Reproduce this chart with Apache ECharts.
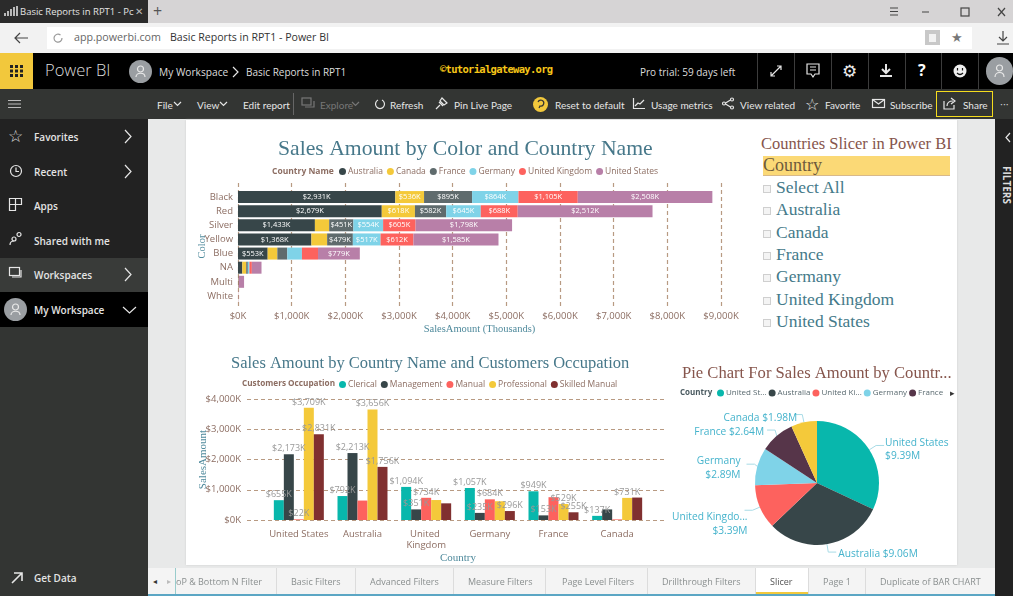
<!DOCTYPE html>
<html>
<head>
<meta charset="utf-8">
<title>Basic Reports in RPT1 - Power BI</title>
<script src="https://cdn.jsdelivr.net/npm/echarts@6/dist/echarts.min.js"></script>
<style>
html, body { margin: 0; padding: 0; width: 1013px; height: 596px; overflow: hidden; background: #e8e9e9; font-family: "Open Sans", sans-serif; }
.box, .t, svg.i, .chart { position: absolute; }
.t { white-space: nowrap; line-height: 1; }
.tb { color: #e6e6e6; font-size: 10px; top: 100px; font-family: Lato, sans-serif; }
.nav { color: #e4e4e4; font-size: 10px; font-weight: 600; left: 34px; }
.tab { color: #8a8f8f; font-size: 9px; top: 577px; }
.sep { position: absolute; top: 568px; height: 26px; width: 1px; background: #dcdcdc; }
.vsep { position: absolute; top: 53px; height: 36px; width: 1px; background: #3c3c3c; }
svg.i { fill: none; stroke: #e6e6e6; stroke-width: 1.2; overflow: visible; }
#slicerTitle { left: 761px; top: 134px; font: 16.5px "Liberation Serif", serif; color: #86554c; white-space: nowrap; position: absolute; }
#slicerHead { left: 763px; top: 156px; width: 187px; height: 19px; background: #fbd976; border-bottom: 1px solid #d8b98a; position: absolute; font: 18px/18px "Liberation Serif", serif; color: #6e5a3c; }
.slicerItem { position: absolute; left: 776px; font: 17.5px/18px "Liberation Serif", serif; color: #447a8a; white-space: nowrap; }
.check { position: absolute; left: 763px; width: 6px; height: 6px; border: 1px solid #cfcfcf; background: #f4f4f4; }
</style>
</head>
<body>
<!-- browser frame -->
<div class="box" style="left:0;top:0;width:1013px;height:23px;background:#d6d4d5"></div>
<div class="box" style="left:0;top:0;width:148px;height:23px;background:#2b2b2b"></div>
<svg class="i" style="left:4px;top:6px" width="14" height="11"><path d="M1 10V7M4 10V5M7 10V3M10 10V1M13 10V0" stroke="#ddd" stroke-width="1.6"/></svg>
<div class="t" style="left:20px;top:7px;font-size:9.5px;color:#e4e4e4">Basic Reports in RPT1 - Pc</div>
<div class="t" style="left:135px;top:6px;font-size:10px;color:#bbb">✕</div>
<div class="t" style="left:153px;top:3px;font-size:16px;color:#555">+</div>
<svg class="i" style="left:890px;top:7px" width="120" height="12"><path d="M0 1H8M0 4.500H8M0 8H8M32 5H39" stroke="#444"/><rect x="71" y="1" width="8" height="8" stroke="#444"/><path d="M108 1l7 8M115 1l-7 8" stroke="#444"/></svg>
<div class="box" style="left:0;top:23px;width:1013px;height:30px;background:#f2f2f2"></div>
<div class="box" style="left:47px;top:27px;width:925px;height:22px;background:#fff"></div>
<svg class="i" style="left:14px;top:31px" width="14" height="14"><path d="M14 7H1M6 2L1 7l5 5" stroke="#444"/></svg>
<svg class="i" style="left:53px;top:33px" width="10" height="10"><path d="M9 5a4 4 0 1 1-1.500-3" stroke="#999"/></svg>
<div class="t" style="left:74px;top:32px;font-size:10.7px;color:#666">app.powerbi.com</div>
<div class="t" style="left:170px;top:32px;font-size:10.6px;color:#333">Basic Reports in RPT1 - Power BI</div>
<div class="box" style="left:925px;top:30px;width:15px;height:15px;background:#c8c8c8"></div>
<div class="box" style="left:929px;top:34px;width:7px;height:8px;background:#f2f2f2"></div>
<div class="t" style="left:951px;top:31px;font-size:13px;color:#777">★</div>
<svg class="i" style="left:997px;top:31px" width="12" height="14"><path d="M6 0V9M2 6l4 4 4-4M0 13H12" stroke="#444"/></svg>

<!-- power bi header -->
<div class="box" style="left:0;top:53px;width:1013px;height:36px;background:#000"></div>
<div class="box" style="left:0;top:53px;width:33px;height:36px;background:#f2c83c"></div>
<svg class="i" style="left:10px;top:65px" width="13" height="12"><path d="M0 1.500H13M0 6H13M0 10.500H13" stroke="#222" stroke-width="3" stroke-dasharray="3 2"/></svg>
<div class="t" style="left:45px;top:62px;font-size:16.5px;font-weight:300;color:#ddd">Power BI</div>
<div class="box" style="left:129px;top:60px;width:23px;height:23px;border-radius:50%;background:#9a9ea2"></div>
<svg class="i" style="left:135px;top:65px" width="11" height="13"><circle cx="5.500" cy="4" r="3" stroke="#e8e8e8"/><path d="M1 12c0-5 9-5 9 0" stroke="#e8e8e8"/></svg>
<div class="t" style="left:159px;top:67px;font-size:10.2px;color:#ddd">My Workspace</div>
<svg class="i" style="left:233px;top:67px" width="6" height="10"><path d="M0 0l5 5-5 5"/></svg>
<div class="t" style="left:246px;top:67px;font-size:10px;color:#ddd">Basic Reports in RPT1</div>
<div class="t" style="left:440px;top:64px;font-size:10.500px;font-weight:700;color:#f5c518;font-family:'DejaVu Sans Mono',monospace;letter-spacing:-.7px">©tutorialgateway.org</div>
<div class="t" style="left:640px;top:67px;font-size:10px;color:#ddd">Pro trial: 59 days left</div>
<div class="vsep" style="left:757px"></div><div class="vsep" style="left:794px"></div><div class="vsep" style="left:831px"></div><div class="vsep" style="left:868px"></div><div class="vsep" style="left:905px"></div><div class="vsep" style="left:941px"></div><div class="vsep" style="left:978px"></div>
<svg class="i" style="left:771px;top:66px" width="10" height="10"><path d="M0 10L10 0M0 6V10H4M6 0H10V4"/></svg>
<svg class="i" style="left:807px;top:64px" width="12" height="14"><path d="M0 0H12V10H8L6 13 4 10H0ZM3 3H9M3 6H9"/></svg>
<div class="t" style="left:842px;top:62px;font-size:17px;color:#eee">⚙</div>
<svg class="i" style="left:880px;top:64px" width="12" height="13"><path d="M6 0V8M2 5l4 4 4-4" stroke-width="2"/><path d="M0 12H12" stroke-width="2"/></svg>
<div class="t" style="left:918px;top:62px;font-size:16px;font-weight:700;color:#fff">?</div>
<svg class="i" style="left:953px;top:64px" width="14" height="14"><circle cx="7" cy="7" r="6.500" fill="#eee" stroke="none"/><path d="M4.500 4V6.500M9.500 4V6.500M4 9c2 2 4 2 6 0" stroke="#111"/></svg>
<div class="box" style="left:986px;top:57px;width:27px;height:28px;border-radius:14px;background:#9a9ea2"></div>
<svg class="i" style="left:994px;top:64px" width="11" height="14"><circle cx="5.500" cy="4" r="3" stroke="#e8e8e8"/><path d="M1 13c0-6 9-6 9 0" stroke="#e8e8e8"/></svg>

<!-- toolbar -->
<div class="box" style="left:0;top:89px;width:1013px;height:30px;background:#333533"></div>
<svg class="i" style="left:8px;top:100px" width="13" height="8"><path d="M0 .5H13M0 4H13M0 7.500H13" stroke="#bbb"/></svg>
<div class="t tb" style="left:157px">File</div>
<svg class="i" style="left:174px;top:102px" width="7" height="4"><path d="M0 0L3.500 3.500 7 0"/></svg>
<div class="t tb" style="left:197px">View</div>
<svg class="i" style="left:220px;top:102px" width="7" height="4"><path d="M0 0L3.500 3.500 7 0"/></svg>
<div class="t tb" style="left:243px">Edit report</div>
<div class="box" style="left:293px;top:93px;width:1px;height:22px;background:#666"></div>
<svg class="i" style="left:302px;top:98px" width="12" height="11"><rect x="0" y="0" width="9" height="7" stroke="#777"/><path d="M3 9H12V3" stroke="#777"/></svg>
<div class="t tb" style="left:320px;color:#777">Explore</div>
<svg class="i" style="left:352px;top:102px" width="7" height="4"><path d="M0 0L3.500 3.500 7 0" stroke="#777"/></svg>
<svg class="i" style="left:375px;top:99px" width="10" height="10"><path d="M3 1a4.500 4.500 0 1 0 4 0"/></svg>
<div class="t tb" style="left:390px">Refresh</div>
<svg class="i" style="left:436px;top:98px" width="11" height="11"><path d="M0 11L4 7M3 4L7 8M6 0L11 5 8 7 4 3Z"/></svg>
<div class="t tb" style="left:454px">Pin Live Page</div>
<div class="box" style="left:533px;top:97px;width:15px;height:15px;border-radius:50%;background:#f2c83c"></div>
<svg class="i" style="left:537px;top:100px" width="7" height="9"><path d="M1 2a3 3 0 1 1 2 4L2 8" stroke="#333"/></svg>
<div class="t tb" style="left:555px">Reset to default</div>
<svg class="i" style="left:633px;top:98px" width="12" height="11"><path d="M.5 0V10.500H12M2 8l3-3 2 1 4-4"/></svg>
<div class="t tb" style="left:651px">Usage metrics</div>
<svg class="i" style="left:722px;top:98px" width="12" height="11"><circle cx="2" cy="5.500" r="1.500"/><circle cx="10" cy="1.500" r="1.500"/><circle cx="10" cy="9.500" r="1.500"/><path d="M3.500 5L8.500 2M3.500 6L8.500 9"/></svg>
<div class="t tb" style="left:740px">View related</div>
<div class="t" style="left:805px;top:96px;font-size:16px;color:#e6e6e6">☆</div>
<div class="t tb" style="left:825px">Favorite</div>
<svg class="i" style="left:872px;top:99px" width="13" height="9"><rect x=".5" y=".5" width="12" height="8"/><path d="M.5 .5L6.500 5 12.500 .5"/></svg>
<div class="t tb" style="left:890px">Subscribe</div>
<div class="box" style="left:936px;top:91px;width:55px;height:24px;border:1.500px solid #f5dc1e"></div>
<svg class="i" style="left:944px;top:98px" width="12" height="11"><path d="M0 3V11H10V7M3 8c0-4 3-5 6-5M7 0l4 3-4 3"/></svg>
<div class="t tb" style="left:963px">Share</div>
<div class="t" style="left:1000px;top:98px;font-size:11px;color:#ccc">···</div>

<!-- left nav -->
<div class="box" style="left:0;top:119px;width:148px;height:139px;background:#222"></div>
<div class="box" style="left:0;top:258px;width:148px;height:34px;background:#393b39"></div>
<div class="box" style="left:0;top:292px;width:148px;height:35px;background:#000"></div>
<div class="box" style="left:0;top:327px;width:148px;height:269px;background:#333533"></div>
<div class="t" style="left:8px;top:127px;font-size:17px;color:#ddd">☆</div>
<div class="t nav" style="top:132px">Favorites</div>
<svg class="i" style="left:125px;top:130px" width="7" height="13"><path d="M0 0L6 6.500 0 13"/></svg>
<svg class="i" style="left:10px;top:165px" width="12" height="12"><circle cx="6" cy="6" r="5.500"/><path d="M6 2.500V6.500H9"/></svg>
<div class="t nav" style="top:167px">Recent</div>
<svg class="i" style="left:125px;top:165px" width="7" height="13"><path d="M0 0L6 6.500 0 13"/></svg>
<svg class="i" style="left:9px;top:198px" width="13" height="13"><path d="M.5 .5H6.500V12.500H.5ZM.5 6.500H6.500M6.500 .5H12.500V6.500H6.500"/></svg>
<div class="t nav" style="top:201px">Apps</div>
<svg class="i" style="left:10px;top:232px" width="13" height="13"><circle cx="4" cy="7" r="2"/><circle cx="9" cy="2.500" r="2"/><path d="M0 13c0-3 2-4 4-4M8 13"/></svg>
<div class="t nav" style="top:236px">Shared with me</div>
<svg class="i" style="left:9px;top:267px" width="15" height="12"><rect x=".5" y=".5" width="10" height="8"/><path d="M12 3V10H3"/></svg>
<div class="t nav" style="top:270px">Workspaces</div>
<svg class="i" style="left:125px;top:268px" width="7" height="13"><path d="M0 0L6 6.500 0 13"/></svg>
<div class="box" style="left:4px;top:298px;width:23px;height:23px;border-radius:50%;background:#9a9ea2"></div>
<svg class="i" style="left:10px;top:303px" width="11" height="13"><circle cx="5.500" cy="4" r="3" stroke="#e8e8e8"/><path d="M1 12c0-5 9-5 9 0" stroke="#e8e8e8"/></svg>
<div class="t nav" style="top:305px">My Workspace</div>
<svg class="i" style="left:123px;top:307px" width="13" height="7"><path d="M0 0L6.500 6 13 0"/></svg>
<svg class="i" style="left:11px;top:572px" width="12" height="12"><path d="M1 11L11 1M3 1H11V9" stroke-width="1.600"/></svg>
<div class="t nav" style="top:573px">Get Data</div>

<!-- report page -->
<div class="box" style="left:186px;top:120px;width:771px;height:445px;background:#fff;box-shadow:0 0 2px #ccc"></div>
<div class="box" style="left:995px;top:119px;width:18px;height:477px;background:#222"></div>
<svg class="i" style="left:1006px;top:133px" width="5" height="9"><path d="M4 0L0 4.500 4 9"/></svg>
<div class="t" style="left:1012px;top:166px;font-size:10px;font-weight:700;color:#ddd;transform-origin:0 0;transform:rotate(90deg)">FILTERS</div>

<div class="chart" id="colorChart" style="left:186px;top:130px;width:570px;height:210px"></div>
<div class="chart" id="occupationChart" style="left:190px;top:350px;width:480px;height:218px"></div>
<div class="chart" id="pieChart" style="left:650px;top:350px;width:320px;height:215px"></div>

<div id="slicerTitle">Countries Slicer in Power BI</div>
<div id="slicerHead">Country</div>
<div id="slicerList"></div>

<!-- report tabs -->
<div class="box" style="left:148px;top:568px;width:847px;height:26px;background:#f4f4f4"></div>
<div class="box" style="left:148px;top:594px;width:847px;height:2px;background:#5ba6c4"></div>
<div class="box" style="left:756px;top:568px;width:52px;height:26px;background:#fff"></div>
<div class="box" style="left:756px;top:592px;width:52px;height:2px;background:#f2c83c"></div>
<div class="t" style="left:153px;top:577px;font-size:8px;color:#333">◂</div>
<div class="t" style="left:167px;top:577px;font-size:8px;color:#bbb">▸</div>
<div class="sep" style="left:175px;background:#9cc"></div>
<div class="t tab" style="left:176px">oP &amp; Bottom N Filter</div><div class="sep" style="left:276px"></div>
<div class="t tab" style="left:291px">Basic Filters</div><div class="sep" style="left:355px"></div>
<div class="t tab" style="left:370px">Advanced Filters</div><div class="sep" style="left:453px"></div>
<div class="t tab" style="left:468px">Measure Filters</div><div class="sep" style="left:545px"></div>
<div class="t tab" style="left:562px">Page Level Filters</div><div class="sep" style="left:647px"></div>
<div class="t tab" style="left:662px">Drillthrough Filters</div><div class="sep" style="left:755px"></div>
<div class="t tab" style="left:770px;color:#555">Slicer</div><div class="sep" style="left:808px"></div>
<div class="t tab" style="left:823px">Page 1</div><div class="sep" style="left:865px"></div>
<div class="t tab" style="left:880px">Duplicate of BAR CHART</div>

<script>
// sales by color, one list per country (thousands)
var colorNames = ['Black', 'Red', 'Silver', 'Yellow', 'Blue', 'NA', 'Multi', 'White'];
var countryNames = ['Australia', 'Canada', 'France', 'Germany', 'United Kingdom', 'United States'];
var australiaByColor = [2931, 2679, 1433, 1368, 553, 80, 8, 1];
var canadaByColor = [536, 618, 266, 293, 180, 73, 2, 0];
var franceByColor = [895, 582, 451, 479, 185, 30, 2, 0];
var germanyByColor = [864, 645, 554, 517, 273, 30, 2, 0];
var ukByColor = [1105, 688, 605, 612, 300, 45, 4, 1];
var usByColor = [2508, 2512, 1798, 1585, 779, 180, 95, 2];
var colorTicks = [0, 1000, 2000, 3000, 4000, 5000, 6000, 7000, 8000, 9000];

// sales by occupation, one list per occupation (thousands)
var occupationCountries = ['United States', 'Australia', 'United Kingdom', 'Germany', 'France', 'Canada'];
var occupationNames = ['Clerical', 'Management', 'Manual', 'Professional', 'Skilled Manual'];
var clericalSales = [655, 792, 1094, 1057, 949, 137];
var managementSales = [2173, 2213, 351, 235, 153, 350];
var manualSales = [22, 643, 734, 684, 754, 20];
var professionalSales = [3709, 3656, 660, 620, 529, 731];
var skilledSales = [2831, 1756, 551, 296, 255, 742];
// labels the report hid because they did not fit
var hiddenLabels = {
    'Management': ['Canada'],
    'Manual': ['Australia', 'France', 'Canada'],
    'Professional': ['United Kingdom', 'Germany'],
    'Skilled Manual': ['United Kingdom', 'Canada']
};

// pie (millions)
var pieCountries = ['United States', 'Australia', 'United Kingdom', 'Germany', 'France', 'Canada'];
var pieValues = [9.39, 9.06, 3.39, 2.89, 2.64, 1.98];
var pieOneLine = ['Australia', 'France', 'Canada'];

var slicerItems = ['Select All', 'Australia', 'Canada', 'France', 'Germany', 'United Kingdom', 'United States'];

var titleFont = '"Liberation Serif", serif';
var bodyFont = '"Open Sans", sans-serif';
var brown = '#8c6d62';
var teal = '#4f8a9c';
var gridLine = { show: true, lineStyle: { color: '#b89a82', type: [4, 3], width: 1.2 } };

function money(v) {
    return '$' + String(v).replace(/\B(?=(\d{3})+$)/, ',') + 'K';
}

function shorten(name, size) {
    return name.length > size ? name.substring(0, size) + '...' : name;
}

function loadSlicer() {
    var html = '';
    for (var i = 0; i < slicerItems.length; i++) {
        var y = 178 + Math.round(i * 22.3);
        html += '<div class="check" style="top:' + (y + 7) + 'px"></div>';
        html += '<div class="slicerItem" style="top:' + y + 'px">' + slicerItems[i] + '</div>';
    }
    document.getElementById('slicerList').innerHTML = html;
}

function loadColorChart() {
    var colors = ['#374649', '#f4c93a', '#5f6b6d', '#7fd3e8', '#fd625e', '#b87fa8'];
    var lists = [australiaByColor, canadaByColor, franceByColor, germanyByColor, ukByColor, usByColor];
    var series = [];
    for (var i = 0; i < countryNames.length; i++) {
        series.push({
            name: countryNames[i],
            type: 'bar',
            stack: 'sales',
            xAxisIndex: 1,
            yAxisIndex: 1,
            barWidth: 12,
            data: lists[i],
            itemStyle: { color: colors[i] },
            label: {
                show: true,
                position: 'inside',
                color: '#fff',
                fontSize: 7.5,
                fontFamily: bodyFont,
                formatter: function (p) {
                    return p.value >= 450 ? money(p.value) : '';
                }
            }
        });
    }
    var option = {
        animation: false,
        title: [
            { text: 'Sales Amount by Color and Country Name', left: 87, top: 3, textStyle: { fontFamily: titleFont, fontWeight: 'normal', fontSize: 21.7, color: '#47788a' } },
            { text: 'Country Name', left: 81, top: 32, textStyle: { fontFamily: bodyFont, fontWeight: 'bold', fontSize: 8.5, color: brown } }
        ],
        legend: {
            left: 148,
            top: 32,
            icon: 'circle',
            itemWidth: 7,
            itemHeight: 7,
            itemGap: 4,
            data: countryNames,
            textStyle: { fontFamily: bodyFont, fontSize: 8.5, color: brown, padding: [0, 0, 0, -3] }
        },
        grid: [
            { left: 52, top: 53, width: 483, height: 125, outerBoundsMode: 'none' },
            { left: 52, top: 60, width: 483, height: 113, outerBoundsMode: 'none' }
        ],
        xAxis: [
            {
                type: 'value', gridIndex: 0, min: colorTicks[0], max: colorTicks[colorTicks.length - 1], interval: 1000,
                axisLine: { show: false }, axisTick: { show: false }, splitLine: gridLine,
                axisLabel: { color: brown, fontSize: 9.5, fontFamily: bodyFont, margin: 3, formatter: money },
                name: 'SalesAmount (Thousands)', nameLocation: 'middle', nameGap: 16, nameMoveOverlap: false,
                nameTextStyle: { fontFamily: titleFont, fontSize: 10.5, color: teal }
            },
            { type: 'value', gridIndex: 1, min: colorTicks[0], max: colorTicks[colorTicks.length - 1], show: false }
        ],
        yAxis: [
            { type: 'value', gridIndex: 0, show: false },
            {
                type: 'category', gridIndex: 1, inverse: true, data: colorNames,
                axisLine: { show: false }, axisTick: { show: false },
                axisLabel: { color: brown, fontSize: 9.5, fontFamily: bodyFont, margin: 5, interval: 0 },
                name: 'Color', nameLocation: 'middle', nameGap: 30, nameMoveOverlap: false,
                nameTextStyle: { fontFamily: titleFont, fontSize: 10.5, color: teal }
            }
        ],
        series: series
    };
    var myChart = echarts.init(document.getElementById('colorChart'));
    myChart.setOption(option);
}

function loadOccupationChart() {
    var colors = ['#08b7ac', '#374649', '#fd625e', '#f4c93a', '#803030'];
    var lists = [clericalSales, managementSales, manualSales, professionalSales, skilledSales];
    var series = [];
    for (var i = 0; i < occupationNames.length; i++) {
        series.push({
            name: occupationNames[i],
            type: 'bar',
            xAxisIndex: 1,
            yAxisIndex: 1,
            barWidth: 10,
            barGap: 0,
            data: lists[i],
            itemStyle: { color: colors[i] },
            label: {
                show: true,
                position: 'top',
                distance: 1,
                color: '#999',
                fontSize: 9,
                fontFamily: bodyFont,
                formatter: function (p) {
                    var hidden = hiddenLabels[p.seriesName] || [];
                    return hidden.indexOf(p.name) >= 0 ? '' : money(p.value);
                }
            }
        });
    }
    var option = {
        animation: false,
        title: [
            { text: 'Sales Amount by Country Name and Customers Occupation', left: 36, top: 0, textStyle: { fontFamily: titleFont, fontWeight: 'normal', fontSize: 16.5, color: '#47788a' } },
            { text: 'Customers Occupation', left: 47, top: 25, textStyle: { fontFamily: bodyFont, fontWeight: 'bold', fontSize: 8.2, color: brown } }
        ],
        legend: {
            left: 144,
            top: 25,
            icon: 'circle',
            itemWidth: 7,
            itemHeight: 7,
            itemGap: 4,
            data: occupationNames,
            textStyle: { fontFamily: bodyFont, fontSize: 8.5, color: brown, padding: [0, 0, 0, -3] }
        },
        grid: [
            { left: 57, top: 49, width: 420, height: 121, outerBoundsMode: 'none' },
            { left: 77, top: 49, width: 382, height: 121, outerBoundsMode: 'none' }
        ],
        xAxis: [
            { type: 'value', gridIndex: 0, show: false },
            {
                type: 'category', gridIndex: 1, data: occupationCountries,
                axisLine: { show: false }, axisTick: { show: false },
                axisLabel: { color: brown, fontSize: 9.5, fontFamily: bodyFont, margin: 9, interval: 0, width: 62, overflow: 'break', lineHeight: 11 },
                name: 'Country', nameLocation: 'middle', nameGap: 33, nameMoveOverlap: false,
                nameTextStyle: { fontFamily: titleFont, fontSize: 11, color: teal }
            }
        ],
        yAxis: [
            {
                type: 'value', gridIndex: 0, min: 0, max: 4000, interval: 1000,
                axisLine: { show: false }, axisTick: { show: false }, splitLine: gridLine,
                axisLabel: { color: brown, fontSize: 9.5, fontFamily: bodyFont, margin: 6, formatter: money },
                name: 'SalesAmount', nameLocation: 'middle', nameGap: 38, nameMoveOverlap: false,
                nameTextStyle: { fontFamily: titleFont, fontSize: 11, color: teal }
            },
            { type: 'value', gridIndex: 1, min: 0, max: 4000, show: false }
        ],
        series: series
    };
    var myChart = echarts.init(document.getElementById('occupationChart'));
    myChart.setOption(option);
}

function loadPieChart() {
    var colors = ['#08b7ac', '#374649', '#fd625e', '#7fd3e8', '#563549', '#f4c93a'];
    // small nudges so the labels sit where the report put them
    var labelShift = [[-4, 4], [-3, 2], [8, 14], [-1, 4], [2, 2], [8, 4]];
    var data = [];
    for (var i = 0; i < pieCountries.length; i++) {
        data.push({ name: pieCountries[i], value: pieValues[i], itemStyle: { color: colors[i] } });
    }
    var option = {
        animation: false,
        title: [
            { text: 'Pie Chart For Sales Amount by Countr...', left: 27, top: 10, textStyle: { fontFamily: titleFont, fontWeight: 'normal', fontSize: 16.6, color: '#86554c' } },
            { text: 'Country', left: 25, top: 34, textStyle: { fontFamily: bodyFont, fontWeight: 'bold', fontSize: 8, color: '#4a5a60' } },
            { text: '▸', left: 295, top: 34, textStyle: { fontWeight: 'normal', fontSize: 9, color: '#333' } }
        ],
        legend: {
            left: 62,
            top: 34,
            icon: 'circle',
            itemWidth: 7,
            itemHeight: 7,
            itemGap: 2,
            data: pieCountries.slice(0, 5),
            formatter: function (name) {
                return shorten(name, 9);
            },
            textStyle: { fontFamily: bodyFont, fontSize: 8, color: '#5a6a70', padding: [0, 0, 0, -3] }
        },
        series: [{
            type: 'pie',
            center: [167, 133],
            radius: 62,
            startAngle: 90,
            clockwise: true,
            data: data,
            label: {
                color: '#45b3cc',
                fontSize: 10.2,
                fontFamily: bodyFont,
                lineHeight: 13.5,
                formatter: function (p) {
                    var amount = '$' + p.value.toFixed(2) + 'M';
                    var sep = pieOneLine.indexOf(p.name) >= 0 ? ' ' : '\n';
                    return shorten(p.name, 13) + sep + amount;
                }
            },
            labelLine: { length: 8, length2: 8, lineStyle: { color: '#a8dbe6', width: 1 } },
            labelLayout: function (p) {
                return { dx: labelShift[p.dataIndex][0], dy: labelShift[p.dataIndex][1] };
            }
        }]
    };
    var myChart = echarts.init(document.getElementById('pieChart'));
    myChart.setOption(option);
}

loadSlicer();
loadColorChart();
loadOccupationChart();
loadPieChart();
</script>
</body>
</html>
